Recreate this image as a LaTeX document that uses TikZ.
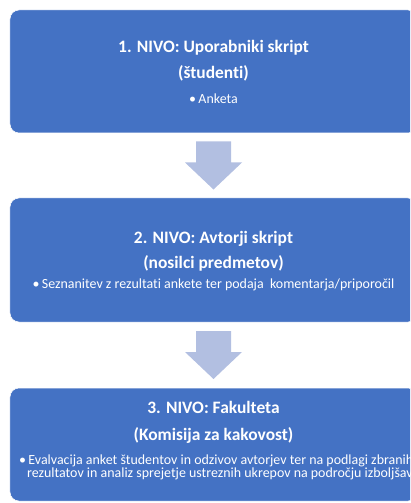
\documentclass[tikz,border=0pt]{standalone}
\usepackage{fontspec}
\setmainfont{Carlito}[Ligatures=NoCommon]
\usetikzlibrary{positioning,calc}
\definecolor{boxblue}{RGB}{68,114,196}
\definecolor{arrowblue}{RGB}{178,191,225}

\tikzset{
  level/.style={rectangle,rounded corners=9bp,fill=boxblue,draw=white,line width=0.5bp,minimum width=407bp,inner sep=0pt},
  headline/.style={text=white,font=\fontsize{17.5}{20}\selectfont\bfseries,anchor=base,inner sep=0pt},
  itemline/.style={text=white,font=\fontsize{14}{14}\selectfont,anchor=base,inner sep=0pt},
  downarrow/.style={fill=arrowblue}
}

\begin{document}
\begin{tikzpicture}[x=1bp,y=-1bp]
  \useasboundingbox (0,0) rectangle (410,503);
  \clip (0,0) rectangle (410,503);

  % Level boxes
  \node[level,minimum height=123bp] (box1) at (213.5,71.5) {};
  \node[level,minimum height=124bp] (box2) at (213.5,260) {};
  \node[level,minimum height=113bp] (box3) at (213.5,444.5) {};

  % Arrows between levels
  \coordinate (mid1) at ($(box1.south)!0.5!(box2.north)$);
  \coordinate (mid2) at ($(box2.south)!0.5!(box3.north)$);
  \foreach \m in {mid1,mid2} {
    \fill[downarrow] ($(\m)+(-17.5,-24)$) -- ++(35,0) -- ++(0,21) -- ++(11,0)
      -- ($(\m)+(0,24)$) -- ($(\m)+(-28.5,-3)$) -- ++(11,0) -- cycle;
  }

  % Level 1
  \node[headline] (head1) at (213.5,53) {1. NIVO: Uporabniki skript};
  \node[headline] (sub1) at (213.5,79) {(študenti)};
  \node[itemline] (item1) at (213.5,103.5) {\textbullet\,Anketa};

  % Level 2
  \node[headline] (head2) at (213.5,243) {2. NIVO: Avtorji skript};
  \node[headline] (sub2) at (213.5,268) {(nosilci predmetov)};
  \node[itemline] (item2) at (213.5,288.5) {\textbullet\,Seznanitev z rezultati ankete ter podaja\ \ komentarja/priporočil};

  % Level 3
  \node[headline] (head3) at (213.5,413) {3. NIVO: Fakulteta};
  \node[headline] (sub3) at (213.5,440) {(Komisija za kakovost)};
  \node[itemline,anchor=base west] (item3a) at (19,464.5) {\textbullet\,Evalvacija anket študentov in odzivov avtorjev ter na podlagi zbranih};
  \node[itemline,anchor=base west] (item3b) at (27,477.5) {rezultatov in analiz sprejetje ustreznih ukrepov na področju izboljšav};
\end{tikzpicture}
\end{document}
